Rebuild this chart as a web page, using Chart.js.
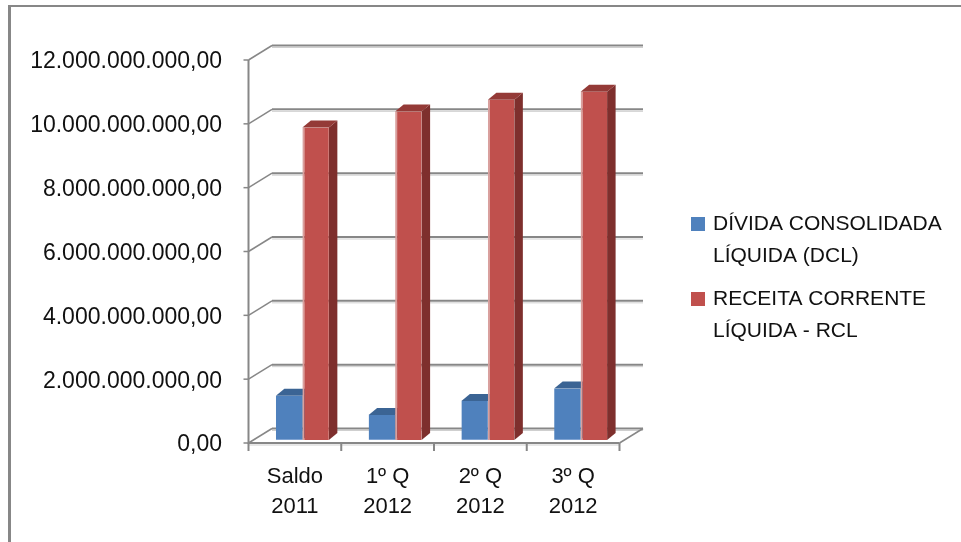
<!DOCTYPE html>
<html>
<head>
<meta charset="utf-8">
<script src="https://cdn.jsdelivr.net/npm/chart.js@4/dist/chart.umd.min.js"></script>
<style>
  html, body { margin: 0; padding: 0; background: #ffffff; }
  #wrap { width: 961px; height: 542px; position: relative; }
  canvas { display: block; }
</style>
</head>
<body>
<div id="wrap"><canvas id="chart" width="961" height="542"></canvas></div>
<script>
// Categories (two-line labels) and the two series
const categories = [['Saldo', '2011'], ['1º Q', '2012'], ['2º Q', '2012'], ['3º Q', '2012']];
const dclValues = [1390000000, 780000000, 1220000000, 1610000000];
const rclValues = [9790000000, 10290000000, 10660000000, 10910000000];
const seriesNames = [['DÍVIDA CONSOLIDADA', 'LÍQUIDA (DCL)'], ['RECEITA CORRENTE', 'LÍQUIDA - RCL']];
const yTicks = [0, 2000000000, 4000000000, 6000000000, 8000000000, 10000000000, 12000000000];

// Brazilian number format: 12.000.000.000,00
function fmtBR(v) {
  const parts = v.toFixed(2).split('.');
  const int = parts[0].replace(/\B(?=(\d{3})+(?!\d))/g, '.');
  return int + ',' + parts[1];
}

const COLORS = {
  dcl: { front: '#4F81BD', top: '#3B6494', side: '#355A86' },
  rcl: { front: '#C0504D', top: '#943A37', side: '#7E2F2D' }
};
const GRID = '#878787';
const GRID_SHADE = '#cfcfcf';
const FONT = '"Liberation Sans", Arial, sans-serif';

// Offsets of the front and back planes relative to the plane of the bars
const FRONT = { dx: -7.5, dy: 3 };
const BACK = { dx: 16, dy: -11.5 };
// Depth of each column (side / top faces)
const DEPTH = { dx: 8.5, dy: -7 };

const framePlugin = {
  id: 'frame3d',
  beforeDraw(chart) {
    const ctx = chart.ctx;
    ctx.save();
    ctx.fillStyle = '#ffffff';
    ctx.fillRect(0, 0, chart.width, chart.height);
    // outer frame
    ctx.fillStyle = '#878787';
    ctx.fillRect(8, 5, 3, chart.height - 5);
    ctx.fillRect(8, 5, chart.width - 8, 2);
    ctx.restore();
  },
  beforeDatasetsDraw(chart) {
    const ctx = chart.ctx;
    const a = chart.chartArea;
    const y = chart.scales.y;
    ctx.save();
    ctx.lineCap = 'butt';

    const line = (x1, y1, x2, y2, w, c) => {
      ctx.beginPath();
      ctx.moveTo(x1, y1);
      ctx.lineTo(x2, y2);
      ctx.lineWidth = w;
      ctx.strokeStyle = c;
      ctx.stroke();
    };

    const fxL = a.left + FRONT.dx, fxR = a.right + FRONT.dx;
    const bxL = a.left + BACK.dx, bxR = a.right + BACK.dx;

    // back-wall gridlines with side-wall connectors
    yTicks.forEach(v => {
      const py = y.getPixelForValue(v);
      const by = py + BACK.dy, fy = py + FRONT.dy;
      line(bxL, by + 2, bxR, by + 2, 1, GRID_SHADE);
      line(bxL, by, bxR, by, 2, GRID);
      line(fxL, fy, bxL, by, 1.5, GRID);
      // tick mark on the front axis
      line(fxL - 5, fy, fxL, fy, 1.5, GRID);
    });

    // front vertical axis
    const y0 = y.getPixelForValue(0);
    const yTop = y.getPixelForValue(yTicks[yTicks.length - 1]);
    line(fxL, yTop + FRONT.dy, fxL, y0 + FRONT.dy + 1, 2, GRID);

    // floor: front edge and right edge
    line(fxL, y0 + FRONT.dy + 2, fxR, y0 + FRONT.dy + 2, 1, GRID_SHADE);
    line(fxL, y0 + FRONT.dy, fxR, y0 + FRONT.dy, 2, GRID);
    line(fxR, y0 + FRONT.dy, bxR, y0 + BACK.dy, 1.5, GRID);

    // category tick marks below the floor
    const n = categories.length;
    const step = (a.right - a.left) / n;
    for (let i = 0; i <= n; i++) {
      const tx = a.left + i * step + FRONT.dx;
      line(tx, y0 + FRONT.dy, tx, y0 + FRONT.dy + 8, 2, GRID);
    }

    // column depth: top and side faces
    chart.data.datasets.forEach((ds, di) => {
      const meta = chart.getDatasetMeta(di);
      const col = di === 0 ? COLORS.dcl : COLORS.rcl;
      meta.data.forEach(bar => {
        const l = bar.x - bar.width / 2, r = bar.x + bar.width / 2;
        const t = bar.y, b = bar.base;
        ctx.fillStyle = col.side;
        ctx.beginPath();
        ctx.moveTo(r, t);
        ctx.lineTo(r + DEPTH.dx, t + DEPTH.dy);
        ctx.lineTo(r + DEPTH.dx, b + DEPTH.dy);
        ctx.lineTo(r, b);
        ctx.closePath();
        ctx.fill();
        ctx.fillStyle = col.top;
        ctx.beginPath();
        ctx.moveTo(l, t);
        ctx.lineTo(l + DEPTH.dx, t + DEPTH.dy);
        ctx.lineTo(r + DEPTH.dx, t + DEPTH.dy);
        ctx.lineTo(r, t);
        ctx.closePath();
        ctx.fill();
      });
    });
    ctx.restore();
  },
  afterDraw(chart) {
    const ctx = chart.ctx;
    const a = chart.chartArea;
    const y = chart.scales.y;
    ctx.save();
    ctx.fillStyle = '#111111';

    // value axis labels
    ctx.font = '23px ' + FONT;
    ctx.textAlign = 'right';
    ctx.textBaseline = 'middle';
    yTicks.forEach(v => {
      ctx.fillText(fmtBR(v), 222, y.getPixelForValue(v) + FRONT.dy + 2);
    });

    // category labels
    ctx.font = '22px ' + FONT;
    ctx.textAlign = 'center';
    const n = categories.length;
    const step = (a.right - a.left) / n;
    categories.forEach((lines, i) => {
      const cx = a.left + (i + 0.5) * step + FRONT.dx;
      lines.forEach((t, k) => ctx.fillText(t, cx, 477 + k * 30));
    });

    // legend
    ctx.font = '21px ' + FONT;
    ctx.textAlign = 'left';
    const swatch = [COLORS.dcl.front, COLORS.rcl.front];
    seriesNames.forEach((lines, i) => {
      const top = 224 + i * 75;
      ctx.fillStyle = swatch[i];
      ctx.fillRect(691, top - 7, 14, 14);
      ctx.fillStyle = '#111111';
      lines.forEach((t, k) => ctx.fillText(t, 713, top + k * 32));
    });
    ctx.restore();
  }
};

new Chart(document.getElementById('chart'), {
  type: 'bar',
  data: {
    labels: categories,
    datasets: [
      {
        label: seriesNames[0].join(' '),
        data: dclValues,
        backgroundColor: COLORS.dcl.front,
        borderColor: '#7fa3d2',
        borderWidth: { left: 0, top: 0, right: 0, bottom: 1 },
        borderSkipped: false
      },
      {
        label: seriesNames[1].join(' '),
        data: rclValues,
        backgroundColor: COLORS.rcl.front,
        borderColor: '#d9a09e',
        borderWidth: { left: 2, top: 0, right: 0, bottom: 0 },
        borderSkipped: false
      }
    ]
  },
  options: {
    responsive: false,
    animation: false,
    devicePixelRatio: 1,
    layout: { padding: { left: 256, right: 334, top: 57, bottom: 102 } },
    datasets: { bar: { categoryPercentage: 0.571, barPercentage: 1 } },
    scales: {
      x: { display: false },
      y: { display: false, min: 0, max: 12000000000 }
    },
    plugins: { legend: { display: false }, tooltip: { enabled: false } }
  },
  plugins: [framePlugin]
});
</script>
</body>
</html>
